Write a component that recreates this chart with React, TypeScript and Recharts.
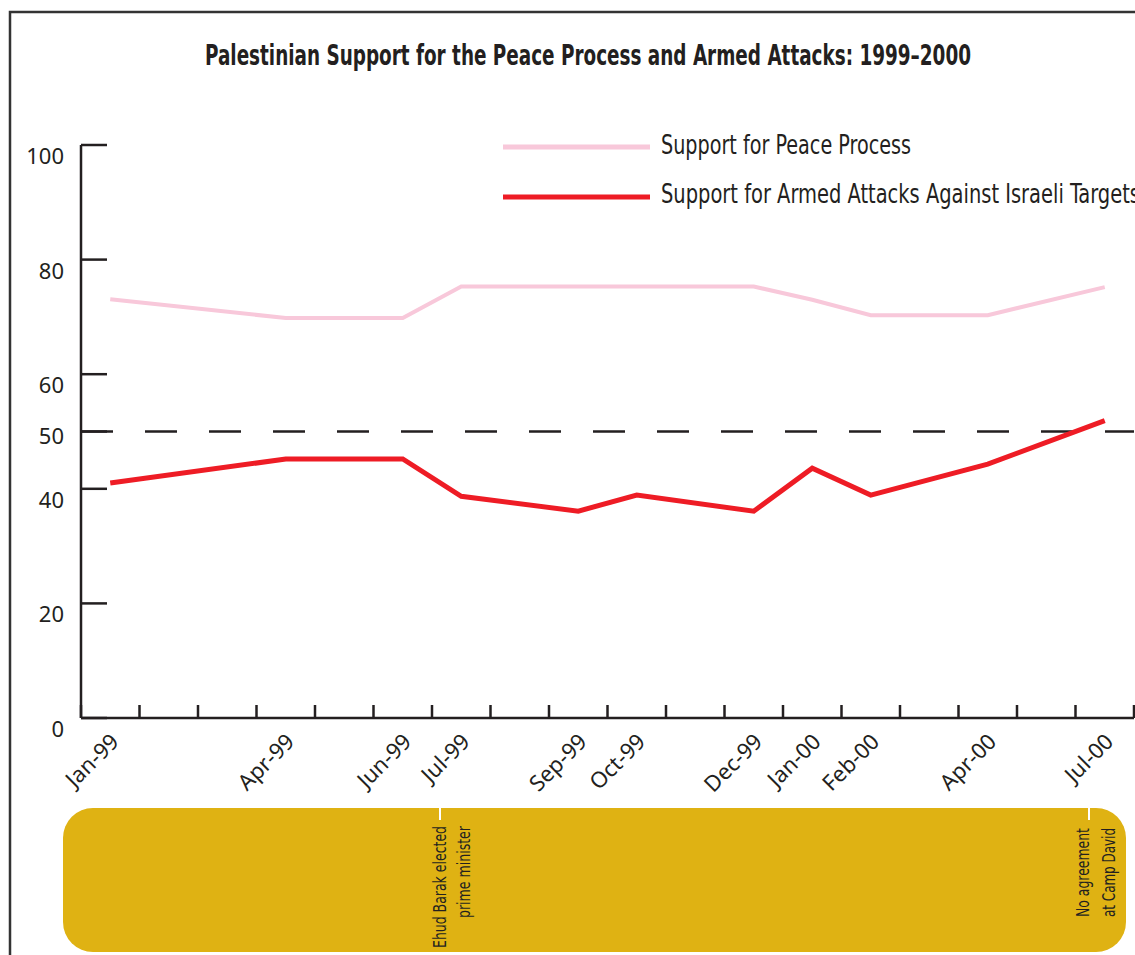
import React from 'react';
import { LineChart, Line, XAxis, YAxis, ReferenceLine } from 'recharts';

// ---- data ----
const periods = ['Jan-99', 'Apr-99', 'Jun-99', 'Jul-99', 'Sep-99', 'Oct-99', 'Dec-99', 'Jan-00', 'Feb-00', 'Apr-00', 'Jul-00'];
// slot of each survey on the 18-slot monthly axis
const periodSlot = [0, 3, 5, 6, 8, 9, 11, 12, 13, 15, 17];
const peaceSupport = [73.1, 69.8, 69.8, 75.3, 75.3, 75.3, 75.3, 73.0, 70.3, 70.3, 75.2];
const armedSupport = [41.0, 45.2, 45.2, 38.7, 36.1, 38.9, 36.1, 43.6, 38.9, 44.3, 51.9];
const slotCount = 18;
const yTicks = [0, 20, 40, 50, 60, 80, 100];
const thresholdValue = 50;
const seriesNames = ['Support for Peace Process', 'Support for Armed Attacks Against Israeli Targets'];
const seriesColors = ['#F8C8DA', '#EE1C25'];
const chartTitle = 'Palestinian Support for the Peace Process and Armed Attacks: 1999\u20132000';
const annotationLines = [
  ['Ehud Barak elected', 'prime minister'],
  ['No agreement', 'at Camp David'],
];

const data = periods.map((p, i) => ({
  period: p,
  slot: periodSlot[i] + 0.5,
  peace: peaceSupport[i],
  armed: armedSupport[i],
}));
const xTicks = Array.from({ length: slotCount * 2 + 1 }, (_, i) => i / 2);
const labelAt = new Map(data.map((d) => [d.slot, d.period]));

const INK = '#231F20';
const SANS = "'Noto Sans', 'Open Sans', sans-serif";
const NARROW = "'Liberation Sans Narrow', 'DejaVu Sans Condensed', 'Roboto', sans-serif";

const XTick = (props: any) => {
  const { x, y, payload } = props;
  const v = payload.value;
  if (Number.isInteger(v)) {
    return <line x1={x} x2={x} y1={y - 13} y2={y} stroke={INK} strokeWidth={2.5} />;
  }
  const label = labelAt.get(v);
  if (!label) return <g />;
  const tx = x + 10;
  const ty = y + 25;
  return (
    <text
      x={tx}
      y={ty}
      transform={`rotate(-45 ${tx} ${ty})`}
      textAnchor="end"
      fontFamily={SANS}
      fontSize={22}
      fill={INK}
    >
      {label}
    </text>
  );
};

const YTick = (props: any) => {
  const { x, y, payload } = props;
  const v = payload.value;
  return (
    <g>
      <line x1={x} x2={x + 26} y1={y} y2={y} stroke={INK} strokeWidth={2.5} />
      <text
        x={x - 17}
        y={y + (v === thresholdValue ? 12 : 19)}
        textAnchor="end"
        fontFamily={SANS}
        fontSize={22}
        fill={INK}
      >
        {v}
      </text>
    </g>
  );
};

export default function App() {
  return (
    <div style={{ position: 'absolute', left: 0, top: 0, width: 1135, height: 955, overflow: 'hidden', background: '#fff' }}>
      <svg width={1135} height={955} style={{ position: 'absolute', left: 0, top: 0 }}>
        <rect x={10} y={12} width={1300} height={1100} fill="none" stroke="#333" strokeWidth={2.5} />
        <text x={205} y={65} textLength={766} lengthAdjust="spacingAndGlyphs" fontFamily={NARROW} fontWeight="bold" fontSize={28} fill={INK}>
          {chartTitle}
        </text>
        {/* legend */}
        <line x1={503} x2={650} y1={147} y2={147} stroke={seriesColors[0]} strokeWidth={5} />
        <text x={661} y={154} textLength={250} lengthAdjust="spacingAndGlyphs" fontFamily={NARROW} fontSize={26} fill={INK}>
          {seriesNames[0]}
        </text>
        <line x1={503} x2={650} y1={197} y2={197} stroke={seriesColors[1]} strokeWidth={5} />
        <text x={661} y={203} textLength={479} lengthAdjust="spacingAndGlyphs" fontFamily={NARROW} fontSize={26} fill={INK}>
          {seriesNames[1]}
        </text>
        {/* timeline band */}
        <rect x={63} y={808} width={1063} height={144} rx={30} ry={30} fill="#DFB213" />
        <line x1={440} x2={440} y1={808} y2={820} stroke="#fff" strokeWidth={2} />
        <line x1={1089} x2={1089} y1={808} y2={820} stroke="#fff" strokeWidth={2} />
        <text x={446} y={826} transform="rotate(-90 446 826)" textAnchor="end" textLength={122} lengthAdjust="spacingAndGlyphs" fontFamily={NARROW} fontSize={18} fill={INK}>
          {annotationLines[0][0]}
        </text>
        <text x={470} y={826} transform="rotate(-90 470 826)" textAnchor="end" textLength={92} lengthAdjust="spacingAndGlyphs" fontFamily={NARROW} fontSize={18} fill={INK}>
          {annotationLines[0][1]}
        </text>
        <text x={1089} y={828} transform="rotate(-90 1089 828)" textAnchor="end" textLength={89} lengthAdjust="spacingAndGlyphs" fontFamily={NARROW} fontSize={18} fill={INK}>
          {annotationLines[1][0]}
        </text>
        <text x={1115} y={828} transform="rotate(-90 1115 828)" textAnchor="end" textLength={89} lengthAdjust="spacingAndGlyphs" fontFamily={NARROW} fontSize={18} fill={INK}>
          {annotationLines[1][1]}
        </text>
      </svg>
      <div style={{ position: 'absolute', left: 0, top: 0 }}>
        <LineChart width={1135} height={955} data={data} margin={{ top: 145, right: 1, bottom: 207, left: 0 }}>
          <XAxis
            dataKey="slot"
            type="number"
            domain={[0, slotCount]}
            ticks={xTicks}
            interval={0}
            height={30}
            tickSize={0}
            tickMargin={0}
            tickLine={false}
            axisLine={{ stroke: INK, strokeWidth: 2.5 }}
            tick={<XTick />}
            allowDecimals
          />
          <YAxis
            type="number"
            domain={[0, 100]}
            ticks={yTicks}
            interval={0}
            width={81}
            tickSize={0}
            tickMargin={0}
            tickLine={false}
            axisLine={{ stroke: INK, strokeWidth: 2.5 }}
            tick={<YTick />}
          />
          <ReferenceLine y={thresholdValue} stroke={INK} strokeWidth={2.5} strokeDasharray="32 32" />
          <Line dataKey="peace" name={seriesNames[0]} stroke={seriesColors[0]} strokeWidth={4} dot={false} isAnimationActive={false} strokeLinejoin="miter" />
          <Line dataKey="armed" name={seriesNames[1]} stroke={seriesColors[1]} strokeWidth={5} dot={false} isAnimationActive={false} strokeLinejoin="miter" />
        </LineChart>
      </div>
    </div>
  );
}
